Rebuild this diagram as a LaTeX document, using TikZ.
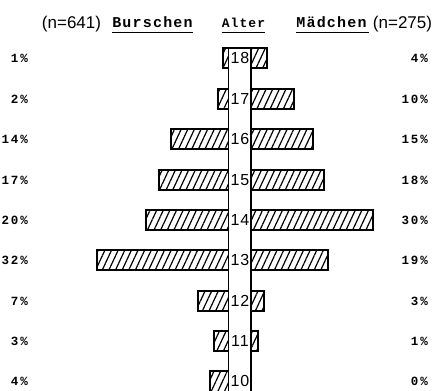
\documentclass[tikz,border=0pt]{standalone}
\usepackage{fontspec}
\usetikzlibrary{patterns.meta}
\newfontfamily\twfont[LetterSpace=8]{Liberation Mono}
\newfontfamily\pcfont[LetterSpace=15]{Liberation Mono}
\newfontfamily\agefont[LetterSpace=6]{Liberation Sans}
\newfontfamily\handfont{Liberation Sans}
\tikzset{
  bar/.style={draw=black, line width=1.3pt, pattern={Lines[angle=65,distance=6pt,line width=1.2pt]}},
  colline/.style={draw=black, line width=1.3pt},
  head/.style={inner sep=0pt, anchor=base, font=\twfont\bfseries\fontsize{15}{15}\selectfont},
  agehead/.style={inner sep=0pt, anchor=base, font=\twfont\bfseries\fontsize{13}{13}\selectfont},
  hand/.style={inner sep=0pt, anchor=base, font=\handfont\fontsize{17}{17}\selectfont},
  pctl/.style={inner sep=0pt, anchor=east, font=\pcfont\bfseries\fontsize{12.5}{12.5}\selectfont},
  agelab/.style={inner sep=0pt, font=\agefont\fontsize{16}{16}\selectfont},
  uline/.style={draw=black, line width=1pt}
}
\begin{document}
\begin{tikzpicture}[x=1pt,y=-1pt]
\useasboundingbox[fill=white] (0,0) rectangle (438,390);
% header
\node[hand] (nl) at (71.5,29) {(n=641)};
\node[head] (bur) at (152.5,28) {Burschen};
\node[agehead] (alt) at (243.5,28) {Alter};
\node[head] (mad) at (331.5,28) {Mädchen};
\node[hand] (nr) at (402.5,29) {(n=275)};
\draw[uline] (bur.south west) ++(0,4) -- ++(81,0);
\draw[uline] (alt.south west) ++(0,4) -- ++(43,0);
\draw[uline] (mad.south west) ++(0,4) -- ++(73,0);
% bars
\foreach \age/\yy/\xl/\xr/\pl/\pr in {18/58/223/267/1/4, 17/99/218/294/2/10, 16/139/171/313/14/15, 15/180/159/324/17/18, 14/220/146/373/20/30, 13/260/97/328/32/19, 12/301/198/264/7/3, 11/341/214/258/3/1}{
  \draw[bar] (\xl,\yy-10) rectangle (228.5,\yy+10);
  \draw[bar] (251,\yy-10) rectangle (\xr,\yy+10);
  \node[agelab] (a\age) at (240,\yy) {\age};
  \node[pctl] (l\age) at (28,\yy) {\pl\%};
  \node[pctl] (r\age) at (428,\yy) {\pr\%};
}
\draw[bar] (210,371) rectangle (228.5,395);
\node[agelab] (a10) at (240,381) {10};
\node[pctl] (l10) at (28,381) {4\%};
\node[pctl] (r10) at (428,381) {0\%};
% column
\draw[colline] (228.5,392) -- (228.5,48) -- (251,48) -- (251,392);
\end{tikzpicture}
\end{document}
